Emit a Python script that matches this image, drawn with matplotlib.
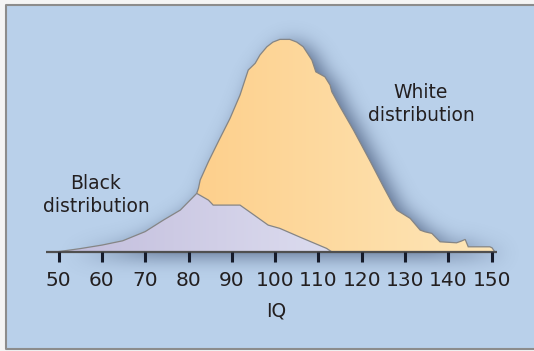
import numpy as np
import matplotlib.pyplot as plt
from matplotlib.colors import to_rgb
from matplotlib.patches import Polygon, Rectangle
from matplotlib.path import Path

# IQ distributions (heights in relative units)
white_iq = [81.9, 82.3, 82.7, 84.6, 87.0, 89.6, 91.9, 93.8, 95.4, 96.5, 98.1, 99.5, 101.1, 103.4, 105.0,
            106.5, 108.5, 109.4, 111.5, 112.7, 113.1, 115.0, 118.1, 122.0, 125.0, 127.3, 128.1, 131.2,
            133.5, 134.6, 136.2, 138.1, 141.9, 143.0, 143.9, 144.6, 149.6, 150.1, 150.7]
white_h = [58.2, 63.3, 71.6, 89.9, 111.0, 133.3, 156.6, 181.6, 188.3, 196.6, 204.8, 209.5, 212.2, 212.2, 209.5,
           204.8, 191.5, 179.8, 174.8, 166.5, 159.8, 144.8, 121.5, 90.0, 65.0, 46.5, 41.5, 33.2,
           21.5, 19.8, 18.2, 9.8, 8.8, 10.5, 12.2, 4.8, 4.8, 3.8, 0.0]
black_iq = [50.0, 55.0, 60.0, 64.8, 70.0, 74.2, 78.1, 81.9, 84.6, 85.7, 91.9, 95.0, 98.4, 101.1, 106.0, 111.9, 113.0]
black_h = [0.0, 3.0, 6.5, 10.8, 20.0, 31.5, 41.5, 58.2, 51.5, 46.5, 46.5, 37.0, 26.5, 23.2, 14.0, 3.2, 0.0]
ticks = [50, 60, 70, 80, 90, 100, 110, 120, 130, 140, 150]

BG = '#b9d0ea'
TXT = '#231f20'
font = ['DejaVu Sans']

fig = plt.figure(figsize=(5.34, 3.51), dpi=100)
fig.patch.set_facecolor('#f4f4f4')
ax = fig.add_axes([0, 0, 1, 1])
# pixel mapping: 50 -> 58.6 px, 4.33 px per IQ point; baseline 251.6 px from top
x0 = 50 - 58.6 / 4.33
x1 = 50 + (534 - 58.6) / 4.33
Y0, Y1 = 251.6 - 351, 251.6


def px2x(px):
    return x0 + px / 534 * (x1 - x0)


def py2y(py):
    return 251.6 - py


# panel: blue fill, grey frame on left, top and bottom only
ax.add_patch(Rectangle((px2x(6), py2y(349)), px2x(570) - px2x(6), 344,
                       facecolor=BG, edgecolor='none', zorder=0))
ax.plot([px2x(600), px2x(6), px2x(6), px2x(600)], [py2y(5), py2y(5), py2y(349), py2y(349)],
        color='#8c8c8c', lw=1.5, zorder=0.5)

# drop shadow: blurred mask of both shapes
wx = np.r_[white_iq[0], white_iq, white_iq[-1]]
wy = np.r_[0, white_h, 0]
bx = np.r_[black_iq, black_iq[0]]
by = np.r_[black_h, 0]
gx = np.linspace(x0, x1, 534)
gy = np.linspace(Y0, Y1, 351)
GX, GY = np.meshgrid(gx, gy)
pts = np.c_[GX.ravel(), GY.ravel()]
mask = Path(np.c_[wx, wy]).contains_points(pts) | Path(np.c_[bx, by]).contains_points(pts)
mask = mask.reshape(GX.shape).astype(float)
sig = 10
k = np.arange(-3 * sig, 3 * sig + 1)
kern = np.exp(-k ** 2 / (2 * sig ** 2))
kern /= kern.sum()
blur = np.apply_along_axis(lambda r: np.convolve(r, kern, mode='same'), 1, mask)
blur = np.apply_along_axis(lambda c: np.convolve(c, kern, mode='same'), 0, blur)
shade = np.zeros(blur.shape + (4,))
shade[..., :3] = np.array([0.20, 0.27, 0.40])
shade[..., 3] = np.clip(blur * 0.75, 0, 1)
dx = 8 * (x1 - x0) / 534
ax.imshow(shade, extent=(x0 + dx, x1 + dx, Y0 - 4, Y1 - 4), origin='lower',
          aspect='auto', zorder=1, interpolation='bilinear')
ax.set_xlim(x0, x1)
ax.set_ylim(Y0, Y1)
ax.axis('off')


# gradient-filled shapes
def grad_fill(xs, ys, c_left, c_right, xa, xb, z):
    poly = Polygon(np.c_[xs, ys], closed=True, facecolor='none', edgecolor='#858585', lw=0.9, zorder=z + 0.5)
    ax.add_patch(poly)
    cl = np.array(to_rgb(c_left))
    cr = np.array(to_rgb(c_right))
    t = np.linspace(0, 1, 256)[None, :, None]
    img = cl + (cr - cl) * t
    im = ax.imshow(img, extent=(xa, xb, 0, 220), origin='lower', aspect='auto', zorder=z)
    im.set_clip_path(poly)


grad_fill(wx, wy, '#fdcf8b', '#fee7ba', 80, 152, 2)
grad_fill(bx, by, '#c2bddc', '#dcdcef', 50, 113, 3)

# axis baseline and ticks
ax.plot([px2x(46), px2x(496.5)], [0, 0], color='#505050', lw=1.6, zorder=5, solid_capstyle='butt')
for t in ticks:
    ax.plot([t, t], [0, -10], color='#161b2a', lw=2.2, zorder=5, solid_capstyle='butt')
    ax.text(t, py2y(281), str(t), ha='center', va='center', fontsize=14.5, color=TXT, family=font, zorder=6)

ax.text(px2x(276), py2y(311), 'IQ', ha='center', va='center', fontsize=13.5, color=TXT, family=font)
ax.text(px2x(421), py2y(104), 'White\ndistribution', ha='center', va='center', fontsize=13.5,
        color=TXT, family=font, linespacing=1.25)
ax.text(px2x(96), py2y(195), 'Black\ndistribution', ha='center', va='center', fontsize=13.5,
        color=TXT, family=font, linespacing=1.25)

fig.savefig('out.png', dpi=100, facecolor=fig.get_facecolor())
